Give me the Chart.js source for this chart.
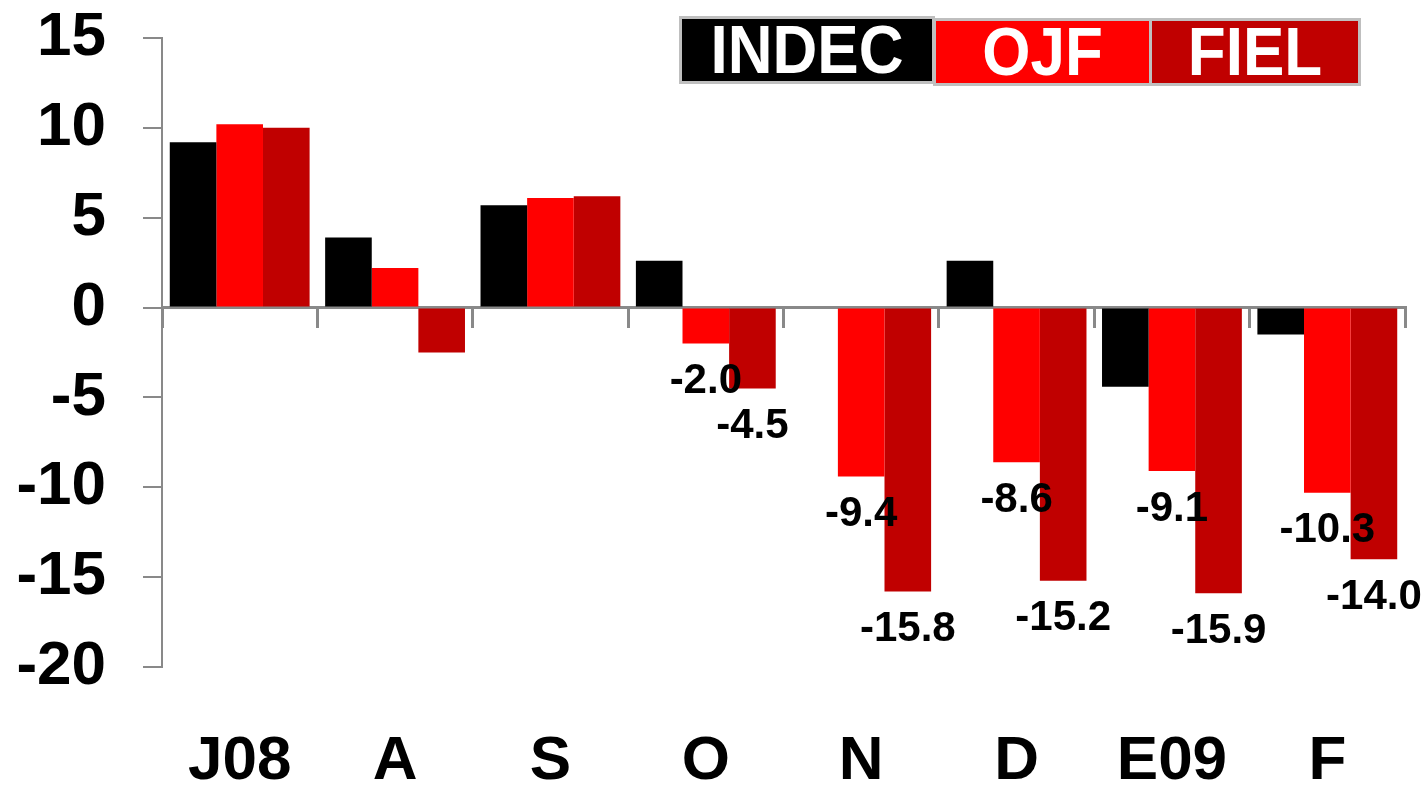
<!DOCTYPE html>
<html>
<head>
<meta charset="utf-8">
<script src="https://cdn.jsdelivr.net/npm/chart.js@4"></script>
<style>
  html, body { margin: 0; padding: 0; background: #fff; }
  #wrap { position: relative; width: 1421px; height: 786px; }
  .key {
    position: absolute; box-sizing: border-box; height: 68px;
    border: 3px solid #bfbfbf; color: #fff;
    font: bold 62px "Liberation Sans", Arial, sans-serif;
    display: flex; align-items: center; justify-content: center;
    line-height: 1;
  }
  .key span { display: inline-block; transform: scaleY(1.1); }
</style>
</head>
<body>
<div id="wrap">
  <canvas id="chart" width="1421" height="786"></canvas>
  <div class="key" style="left:679px;top:16px;width:256px;background:#000;"><span>INDEC</span></div>
  <div class="key" style="left:933px;top:18px;width:219px;background:#ff0000;"><span>OJF</span></div>
  <div class="key" style="left:1149px;top:18px;width:212px;background:#c00000;"><span>FIEL</span></div>
</div>
<script>
const months = ['J08', 'A', 'S', 'O', 'N', 'D', 'E09', 'F'];
const indec = [9.2, 3.9, 5.7, 2.6, null, 2.6, -4.4, -1.5];
const ojf = [10.2, 2.2, 6.1, -2.0, -9.4, -8.6, -9.1, -10.3];
const fiel = [10.0, -2.5, 6.2, -4.5, -15.8, -15.2, -15.9, -14.0];
const labelFrom = 3; // value labels only from O onwards

const font = '"Liberation Sans", Arial, sans-serif';
const axisGray = '#898989';

// value labels under the negative OJF / FIEL bars
const dataLabels = {
  id: 'dataLabels',
  afterDatasetsDraw(chart) {
    const ctx = chart.ctx;
    ctx.save();
    ctx.font = 'bold 42px ' + font;
    ctx.fillStyle = '#000';
    ctx.textAlign = 'center';
    ctx.textBaseline = 'middle';
    chart.data.datasets.forEach((ds, di) => {
      if (!ds.showLabels) return;
      chart.getDatasetMeta(di).data.forEach((bar, i) => {
        if (i < labelFrom || ds.data[i] == null) return;
        ctx.fillText(ds.data[i].toFixed(1), bar.x, bar.y + 38);
      });
    });
    ctx.restore();
  }
};

new Chart('chart', {
  type: 'bar',
  data: {
    labels: months,
    datasets: [
      { label: 'INDEC', data: indec, backgroundColor: '#000000' },
      { label: 'OJF', data: ojf, backgroundColor: '#ff0000', showLabels: true },
      { label: 'FIEL', data: fiel, backgroundColor: '#c00000', showLabels: true }
    ]
  },
  options: {
    responsive: false,
    animation: false,
    events: [],
    categoryPercentage: 0.9,
    barPercentage: 1.0,
    layout: { padding: { top: 38, right: 16, left: 0, bottom: 0 } },
    plugins: { legend: { display: false }, tooltip: { enabled: false } },
    scales: {
      x: {
        grid: { display: false },
        border: { display: false },
        ticks: { color: '#000', font: { family: font, size: 62, weight: 'bold' }, padding: 50 },
        afterFit: (s) => { s.height = 119; }
      },
      x2: {
        type: 'category',
        labels: months,
        position: { y: 0 },
        grid: { drawOnChartArea: false, drawTicks: true, tickLength: 19, color: axisGray, lineWidth: 3 },
        border: { display: true, color: axisGray, width: 3 },
        ticks: { display: false }
      },
      y: {
        min: -20,
        max: 15,
        ticks: { stepSize: 5, color: '#000', font: { family: font, size: 62, weight: 'bold' }, padding: 37 },
        grid: { drawOnChartArea: false, drawTicks: true, tickLength: 19, color: axisGray, lineWidth: 2 },
        border: { display: true, color: axisGray, width: 2 },
        afterFit: (s) => { s.width = 162; s.paddingTop = 0; s.paddingBottom = 0; }
      }
    }
  },
  plugins: [dataLabels]
});
</script>
</body>
</html>
